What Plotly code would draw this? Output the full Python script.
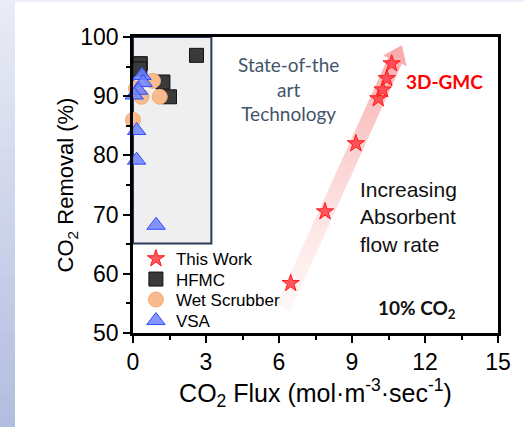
import plotly.graph_objects as go
import numpy as np

# ---------------- data ----------------
work_x = [6.48, 7.89, 9.16, 10.08, 10.26, 10.43, 10.63]
work_y = [58.4, 70.5, 82.0, 89.6, 91.1, 93.0, 95.5]

hfmc_x = [2.61, 0.30, 0.28, 1.23, 1.50]
hfmc_y = [96.9, 95.5, 94.6, 92.4, 89.9]

wet_x = [0.82, 0.35, 1.10, 0.00, 0.12]
wet_y = [92.6, 89.9, 89.9, 86.0, 91.3]

vsa_x = [0.37, 0.42, 0.22, 0.05, 0.15, 0.15, 0.95]
vsa_y = [93.5, 92.3, 91.0, 90.2, 84.2, 79.2, 68.2]

x_ticks = [0, 3, 6, 9, 12, 15]
y_ticks = [50, 60, 70, 80, 90, 100]

# ---------------- layout geometry ----------------
W, H = 524, 427
ML, MR, MT, MB = 133, 26, 37, 94
XR = [0, 15]
YR = [50, 100]
PW, PH = W - ML - MR, H - MT - MB

def d2p(x, y):
    return ((x - XR[0]) / (XR[1] - XR[0]) * PW, (y - YR[0]) / (YR[1] - YR[0]) * PH)

def p2d(px, py):
    return (XR[0] + px / PW * (XR[1] - XR[0]), YR[0] + py / PH * (YR[1] - YR[0]))

# arrow (decoration) endpoints in data units
arrow_start = (6.17, 54.2)
arrow_end = (11.05, 98.6)
sx, sy = d2p(*arrow_start)
ex, ey = d2p(*arrow_end)
L = np.hypot(ex - sx, ey - sy)
ux, uy = (ex - sx) / L, (ey - sy) / L
nx, ny = -uy, ux
hw, hhw, hl = 7.5, 13.0, 17.0
bx, by = ex - ux * hl, ey - uy * hl
poly_px = [
    (sx + nx * hw, sy + ny * hw),
    (bx + nx * hw, by + ny * hw),
    (bx + nx * hhw, by + ny * hhw),
    (ex, ey),
    (bx - nx * hhw, by - ny * hhw),
    (bx - nx * hw, by - ny * hw),
    (sx - nx * hw, sy - ny * hw),
    (sx + nx * hw, sy + ny * hw),
]
poly = [p2d(a, b) for a, b in poly_px]
ax_ = [p[0] for p in poly]
ay_ = [p[1] for p in poly]

fig = go.Figure()

fig.add_trace(go.Scatter(
    x=ax_, y=ay_, mode="lines", fill="toself",
    line=dict(width=0, color="rgba(0,0,0,0)"),
    fillgradient=dict(type="vertical", start=min(ay_), stop=max(ay_),
                      colorscale=[[0, "rgba(255,240,240,0.5)"], [1, "rgba(248,160,160,0.9)"]]),
    showlegend=False, hoverinfo="skip"))

fig.add_trace(go.Scatter(
    x=work_x, y=work_y, mode="markers", name="This Work", legend="legend",
    marker=dict(symbol="star", size=13, color="rgba(255,60,70,0.85)",
                line=dict(color="#ff1a1a", width=1)), cliponaxis=False))
fig.add_trace(go.Scatter(
    x=hfmc_x, y=hfmc_y, mode="markers", name="HFMC", legend="legend2",
    marker=dict(symbol="square", size=14, color="#3a3a3a",
                line=dict(color="#111111", width=1)), cliponaxis=False))
fig.add_trace(go.Scatter(
    x=wet_x, y=wet_y, mode="markers", name="Wet Scrubber", legend="legend3",
    marker=dict(symbol="circle", size=15, color="#f8bb8e",
                line=dict(color="#f5ab74", width=1)), cliponaxis=False))
fig.add_trace(go.Scatter(
    x=vsa_x, y=vsa_y, mode="markers", name="VSA", legend="legend4",
    marker=dict(symbol="triangle-up", size=16, color="rgba(110,130,255,0.85)",
                line=dict(color="#2f4cff", width=1)), cliponaxis=False))

shapes = []
# left gradient strip of the page
N = 40
x0p = (0 - ML) / PW
x1p = (15 - ML) / PW
c_top = np.array([234, 237, 247])
c_bot = np.array([178, 190, 224])
for i in range(N):
    t0 = i / N
    t1 = (i + 1) / N
    c = c_top + (c_bot - c_top) * (t0 + t1) / 2
    ytop = 1 + MT / PH - t0 * H / PH
    ybot = 1 + MT / PH - t1 * H / PH
    shapes.append(dict(type="rect", xref="paper", yref="paper", x0=x0p, x1=x1p,
                       y0=ybot, y1=ytop + 0.002, line=dict(width=0),
                       fillcolor="rgb(%d,%d,%d)" % tuple(c.astype(int)), layer="below"))
shapes.append(dict(type="rect", xref="paper", yref="paper", x0=x1p, x1=(W - ML) / PW,
                   y0=1 + (MT - 2) / PH, y1=1 + MT / PH, line=dict(width=0),
                   fillcolor="#eceff8", layer="below"))
# state-of-the-art box
shapes.append(dict(type="rect", xref="x", yref="y", x0=0, x1=3.22, y0=65.1, y1=100,
                   fillcolor="#efefef", line=dict(color="#2b3a55", width=2), layer="below"))

fig.update_layout(shapes=shapes)

annos = [
    dict(x=288, y=37 + 52, text="State-of-the<br>art<br>Technology",
         font=dict(family="Lato", size=19, color="#44546a")),
    dict(x=444, y=82, text="<b>3D-GMC</b>", font=dict(family="Lato", size=19, color="#ff0000")),
    dict(x=358, y=217, text="Increasing<br>Absorbent<br>flow rate", xanchor="left",
         align="left", font=dict(family="Liberation Sans", size=21, color="#111111")),
    dict(x=417, y=309, text="<b>10% CO<sub>2</sub></b>",
         font=dict(family="Lato", size=19, color="#111111")),
]
for a in annos:
    a.setdefault("xanchor", "center")
    fig.add_annotation(xref="paper", yref="paper",
                       x=(a.pop("x") - ML) / PW, y=1 - (a.pop("y") - MT) / PH,
                       yanchor="middle", showarrow=False, **a)

axis_common = dict(showline=True, linecolor="black", linewidth=2.5, mirror=True,
                   ticks="outside", ticklen=7, tickwidth=2, tickcolor="black",
                   showgrid=False, zeroline=False,
                   tickfont=dict(family="Liberation Sans", size=23, color="black"))

fig.update_xaxes(range=XR, tickvals=x_ticks, ticktext=[str(v) for v in x_ticks],
                 minor=dict(ticks="outside", dtick=1.5, tick0=0, ticklen=4, tickwidth=2, tickcolor="black"),
                 title=dict(text="CO<sub>2</sub> Flux (mol·m<sup>-3</sup>·sec<sup>-1</sup>)",
                            font=dict(family="Liberation Sans", size=25, color="black"), standoff=2),
                 **axis_common)
fig.update_yaxes(range=YR, tickvals=y_ticks, ticktext=[str(v) for v in y_ticks],
                 minor=dict(ticks="outside", dtick=5, tick0=50, ticklen=4, tickwidth=2, tickcolor="black"),
                 title=dict(text="CO<sub>2</sub> Removal (%)",
                            font=dict(family="Liberation Sans", size=22, color="black"), standoff=1),
                 **axis_common)

leg_font = dict(family="Liberation Sans", size=17, color="black")
leg_y = [259, 279.5, 300, 321]
legs = {}
for i, yy in enumerate(leg_y):
    key = "legend" if i == 0 else "legend%d" % (i + 1)
    legs[key] = dict(x=0.008, y=1 - (yy - MT) / PH, xanchor="left", yanchor="middle",
                     bgcolor="rgba(0,0,0,0)", font=leg_font, itemsizing="trace")

fig.update_layout(
    width=W, height=H, margin=dict(l=ML, r=MR, t=MT, b=MB, autoexpand=False),
    paper_bgcolor="white", plot_bgcolor="white",
    showlegend=True, **legs,
)

fig.write_html("out.html", config={"displayModeBar": False},
               post_script="document.body.style.margin='0px';")
